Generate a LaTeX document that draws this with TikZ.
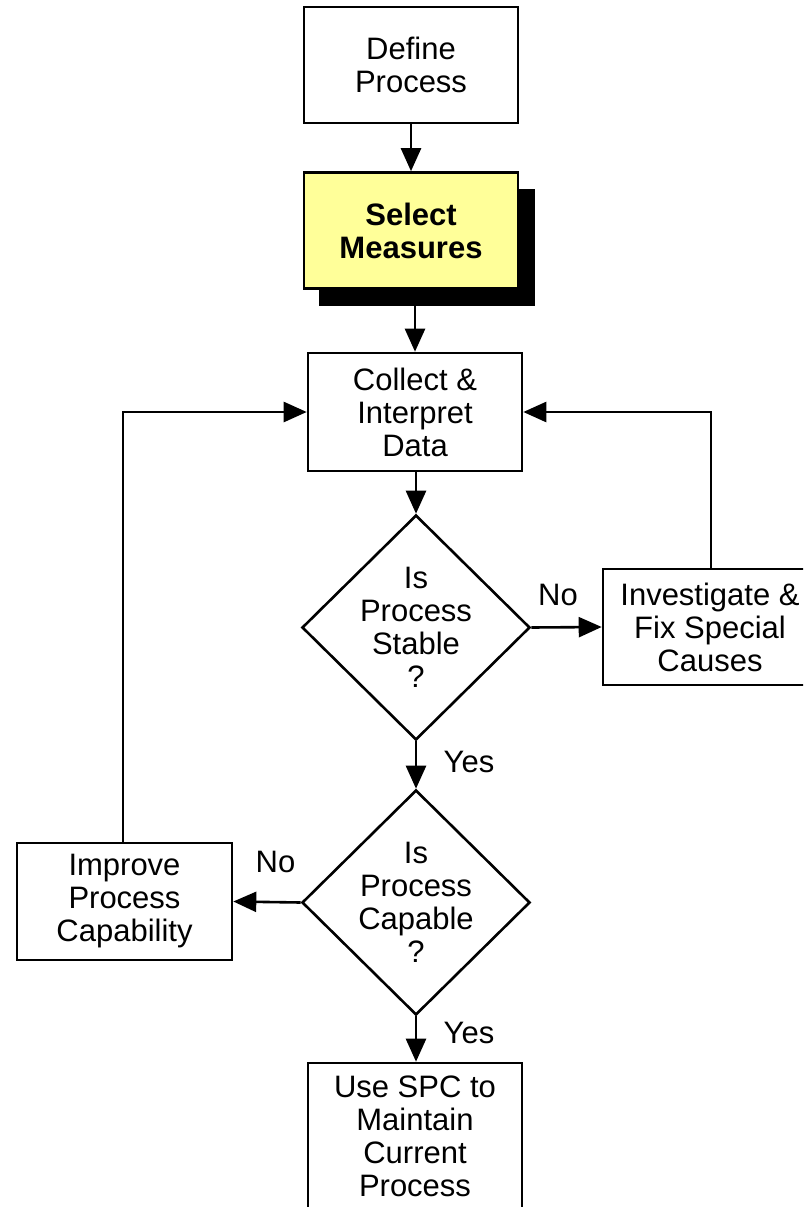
\documentclass[tikz,border=0pt]{standalone}
\usepackage{fontspec}
\setmainfont{Liberation Sans}
\usetikzlibrary{arrows.meta,shapes.geometric}
\definecolor{boxyellow}{RGB}{255,255,153}
\begin{document}
\begin{tikzpicture}[x=1pt,y=-1pt,
  every node/.style={font=\fontsize{31}{33}\selectfont, align=center, inner sep=0pt},
  procbox/.style={draw, line width=2.6pt, fill=white, rectangle, minimum width=214pt, minimum height=116pt},
  decision/.style={draw, line width=2.6pt, fill=white, diamond, minimum width=228pt, minimum height=225pt},
  lbl/.style={anchor=base},
  conn/.style={line width=2.6pt, -{Triangle[length=23pt,width=20pt]}}
]
\useasboundingbox (0,0) rectangle (803,1207);
\clip (0,0) rectangle (803,1207);
\fill[white] (0,0) rectangle (803,1207);

% nodes
\node[procbox] (def) at (411,65) {Define\\Process};
\node[fill=black, minimum width=216pt, minimum height=117pt] (selshadow) at (427,247) {};
\node[procbox, fill=boxyellow, font=\fontsize{31}{33}\selectfont\bfseries] (sel) at (411,230.5) {Select\\Measures};
\node[procbox, minimum height=118pt] (col) at (415,412) {Collect \&\\Interpret\\Data};
\node[decision] (d1) at (416,627.5) {};
\node (d1t) at (d1.center) {Is\\Process\\Stable\\?};
\node[procbox] (inv) at (710,627) {Investigate \&\\Fix Special\\Causes};
\node[decision] (d2) at (416,902.5) {};
\node (d2t) at (d2.center) {Is\\Process\\Capable\\?};
\node[procbox, minimum width=215pt, minimum height=117pt] (imp) at (124.5,901.5) {Improve\\Process\\Capability};
\node[procbox, minimum height=146pt] (spc) at (415,1136) {Use SPC to\\Maintain\\Current\\Process};

% labels
\node[lbl] (no1) at (558,605) {No};
\node[lbl] (yes1) at (469,772) {Yes};
\node[lbl] (no2) at (275.5,872) {No};
\node[lbl] (yes2) at (469,1043) {Yes};

% connectors
\draw[conn] (def.south) -- (def.south |- sel.north);
\draw[conn] (col.north |- selshadow.south) -- (col.north);
\draw[conn] (d1.north |- col.south) -- (d1.north);
\draw[conn] (d1.east) -- (inv.west);
\draw[conn] (711,0 |- inv.north) |- (col.east);
\draw[conn] (d1.south) -- (d2.north);
\draw[conn] (d2.west) -- (imp.east);
\draw[conn] (123,0 |- imp.north) |- (col.west);
\draw[conn] (d2.south) -- (d2.south |- spc.north);
\end{tikzpicture}
\end{document}
